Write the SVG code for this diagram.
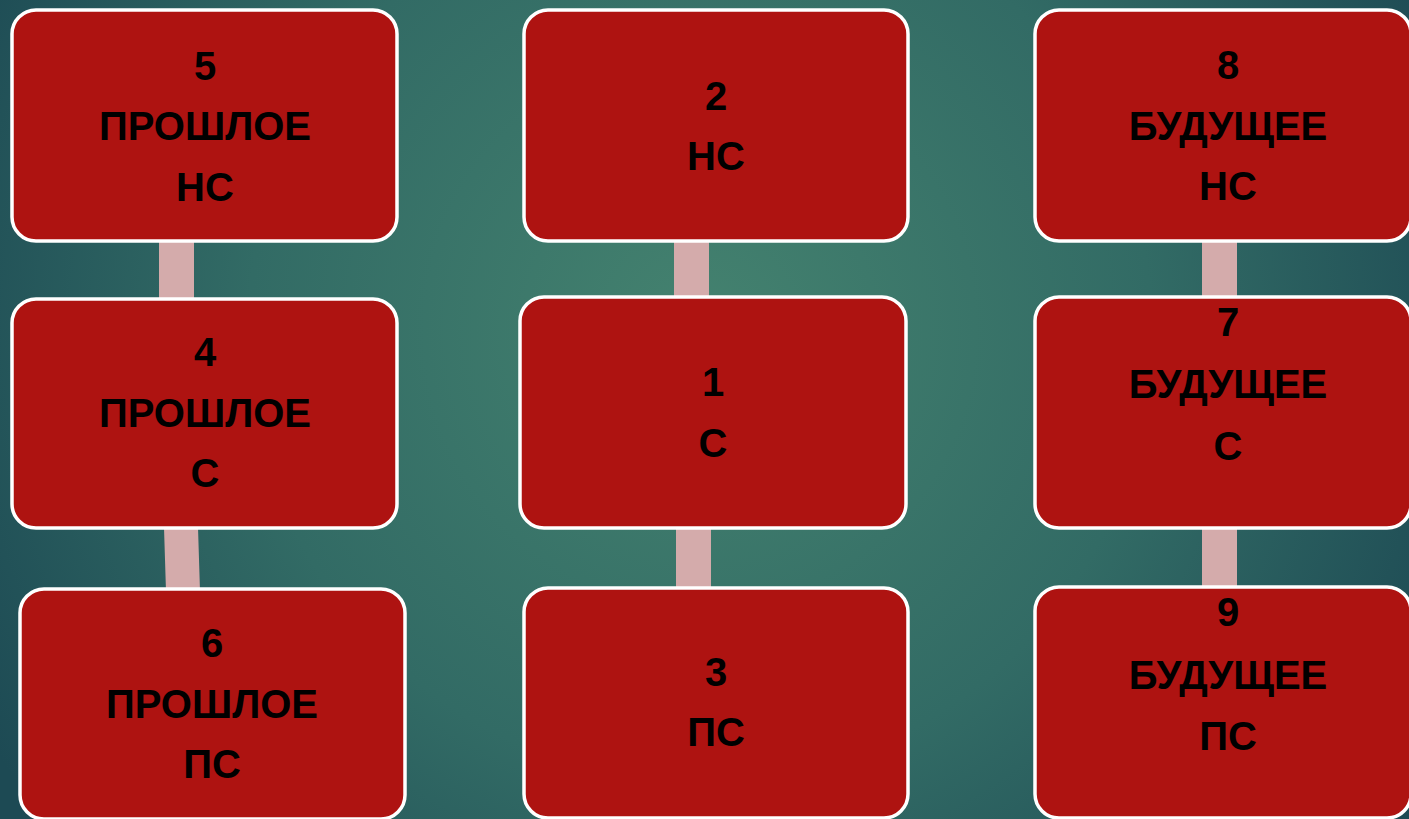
<svg xmlns="http://www.w3.org/2000/svg" width="1409" height="819" viewBox="0 0 1409 819">
<defs>
<radialGradient id="bg" cx="700" cy="330" r="820" gradientUnits="userSpaceOnUse">
<stop offset="0" stop-color="#44826f"/>
<stop offset="0.55" stop-color="#326b65"/>
<stop offset="1" stop-color="#1d4a54"/>
</radialGradient>
<style>
.box{fill:#ae1311;stroke:#ffffff;stroke-width:3.5}
.con{fill:#d4abab}
text{font-family:"Liberation Sans","DejaVu Sans",sans-serif;font-weight:bold;font-size:40px;fill:#000;text-anchor:middle}
</style>
</defs>
<rect x="0" y="0" width="1409" height="819" fill="url(#bg)"/>
<g id="connectors">
<rect class="con" x="159" y="242" width="35" height="58"/>
<polygon class="con" points="164,528 198,528 200,591 166,591"/>
<rect class="con" x="674" y="242" width="35" height="56"/>
<rect class="con" x="676" y="528" width="35" height="62"/>
<rect class="con" x="1202" y="242" width="35" height="56"/>
<rect class="con" x="1202" y="528" width="35" height="60"/>
</g>
<g id="node5">
<rect class="box" x="12" y="10" width="385" height="231" rx="24"/>
<text x="205" y="80">5</text><text x="205" y="140">ПРОШЛОЕ</text><text x="205" y="201">НС</text>
</g>
<g id="node4">
<rect class="box" x="12" y="299" width="385" height="229" rx="24"/>
<text x="205" y="366">4</text><text x="205" y="427">ПРОШЛОЕ</text><text x="205" y="487">С</text>
</g>
<g id="node6">
<rect class="box" x="20" y="589" width="385" height="230" rx="24"/>
<text x="212" y="657">6</text><text x="212" y="718">ПРОШЛОЕ</text><text x="212" y="778">ПС</text>
</g>
<g id="node2">
<rect class="box" x="524" y="10" width="384" height="231" rx="24"/>
<text x="716" y="110">2</text><text x="716" y="170">НС</text>
</g>
<g id="node1">
<rect class="box" x="520" y="297" width="386" height="231" rx="24"/>
<text x="713" y="396">1</text><text x="713" y="457">С</text>
</g>
<g id="node3">
<rect class="box" x="524" y="588" width="384" height="230" rx="24"/>
<text x="716" y="686">3</text><text x="716" y="746">ПС</text>
</g>
<g id="node8">
<rect class="box" x="1035" y="10" width="376" height="231" rx="24"/>
<text x="1228" y="79">8</text><text x="1228" y="140">БУДУЩЕЕ</text><text x="1228" y="200">НС</text>
</g>
<g id="node7">
<rect class="box" x="1035" y="297" width="376" height="231" rx="24"/>
<text x="1228" y="336">7</text><text x="1228" y="398">БУДУЩЕЕ</text><text x="1228" y="460">С</text>
</g>
<g id="node9">
<rect class="box" x="1035" y="587" width="376" height="231" rx="24"/>
<text x="1228" y="626">9</text><text x="1228" y="689">БУДУЩЕЕ</text><text x="1228" y="750">ПС</text>
</g>
</svg>
